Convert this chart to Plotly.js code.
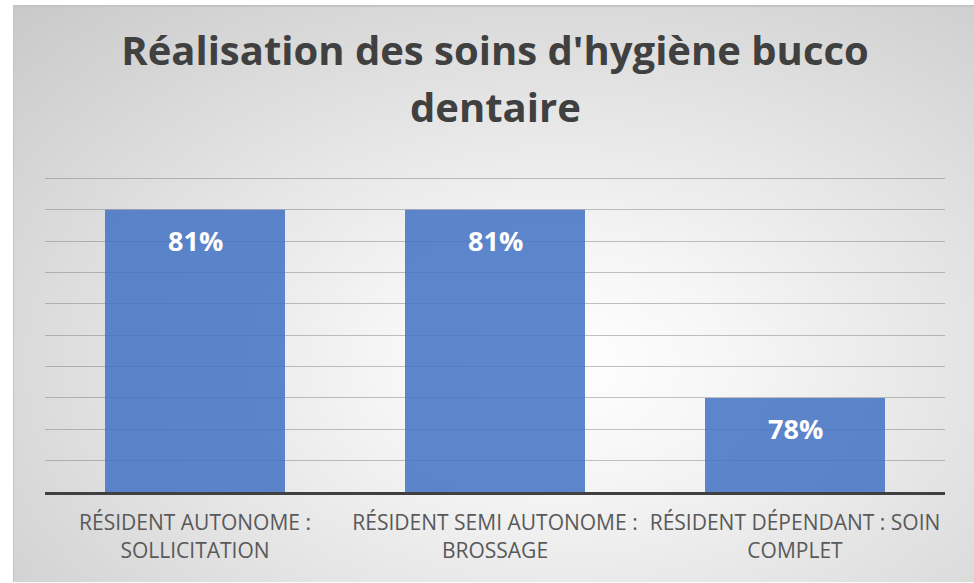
<!DOCTYPE html>
<html>
<head>
<meta charset="utf-8">
<script src="https://cdn.plot.ly/plotly-3.0.1.min.js"></script>
<style>
  html, body { margin: 0; padding: 0; background: #ffffff; width: 974px; height: 583px; overflow: hidden; }
  #frame {
    position: absolute; left: 13px; top: 5px; width: 961px; height: 577px;
    background: radial-gradient(ellipse farthest-corner at 57% 62%, #ffffff 0%, #f6f6f6 22%, #c9c9c9 100%);
    border-top: 2px solid #c4c4c4; border-left: 1px solid #c4c4c4; box-sizing: border-box;
  }
  #chart { position: absolute; left: 0; top: 0; width: 961px; height: 577px; }
</style>
</head>
<body>
<div id="frame"><div id="chart"></div></div>
<script>
const titleLines = ["Réalisation des soins d'hygiène bucco", "dentaire"];
const categories = ["RÉSIDENT AUTONOME :<br>SOLLICITATION", "RÉSIDENT SEMI AUTONOME :<br>BROSSAGE", "RÉSIDENT DÉPENDANT : SOIN<br>COMPLET"];
const values = [81, 81, 78];
const labels = values.map(v => v + '%');

const trace = {
  type: 'bar',
  x: categories,
  y: values,
  marker: { color: 'rgba(68,114,196,0.86)', line: { width: 0 } },
  hoverinfo: 'none'
};

const annotations = values.map((v, i) => ({
  x: categories[i], y: v, xref: 'x', yref: 'y',
  text: '<b>' + labels[i] + '</b>', showarrow: false,
  yanchor: 'middle', yshift: -31,
  font: { family: 'Open Sans, sans-serif', size: 27, color: '#ffffff' }
}));
annotations.push({
  xref: 'paper', yref: 'paper', x: 0.5, y: 1, yanchor: 'middle', xanchor: 'center',
  yshift: 66, showarrow: false,
  text: '<b>' + titleLines[1] + '</b>',
  font: { family: 'Open Sans, sans-serif', size: 40, color: '#404040' }
});

const layout = {
  width: 961, height: 577,
  paper_bgcolor: 'rgba(0,0,0,0)', plot_bgcolor: 'rgba(0,0,0,0)',
  margin: { l: 31, r: 30, t: 165, b: 92 },
  title: {
    text: '<b>' + titleLines[0] + '</b>',
    x: 0.5, xanchor: 'center', xref: 'paper',
    y: 1 - 44 / 577, yref: 'container', yanchor: 'middle',
    font: { family: 'Open Sans, sans-serif', size: 40, color: '#404040' }
  },
  bargap: 0.4,
  showlegend: false,
  xaxis: {
    type: 'category',
    showline: true, linecolor: '#404040', linewidth: 3,
    ticks: '', showgrid: false, ticklabelstandoff: 10,
    tickfont: { family: 'Open Sans, sans-serif', size: 21, color: '#595959' }
  },
  yaxis: {
    range: [76.5, 81.6], dtick: 0.5, tick0: 76.5,
    showticklabels: false, ticks: '', zeroline: false,
    showgrid: true, gridcolor: 'rgba(120,120,120,0.45)', gridwidth: 1,
    showline: false
  },
  annotations: annotations
};

Plotly.newPlot('chart', [trace], layout, { displayModeBar: false, staticPlot: true });
</script>
</body>
</html>
